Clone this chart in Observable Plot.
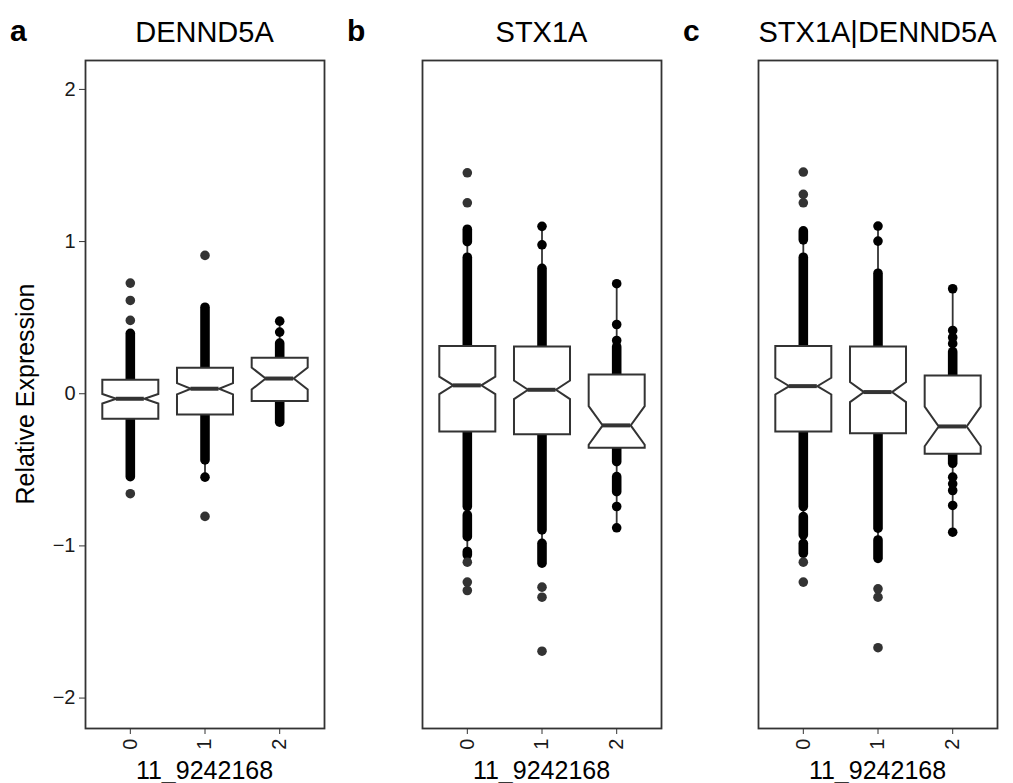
<!DOCTYPE html>
<html>
<head>
<meta charset="utf-8">
<script src="https://cdn.jsdelivr.net/npm/d3@7"></script>
<script src="https://cdn.jsdelivr.net/npm/@observablehq/plot@0.6"></script>
<style>
  html, body { margin: 0; padding: 0; background: #fff; }
  #root { position: relative; width: 1013px; height: 783px; overflow: hidden;
          font-family: "Liberation Sans", Arial, sans-serif; }
  #root > svg { position: absolute; top: 0; }
</style>
</head>
<body>
<div id="root"></div>
<script>
// ---------------- data ----------------
const genes = ["DENND5A", "STX1A", "STX1A|DENND5A"];
const panelTags = ["a", "b", "c"];
const genotypes = [0, 1, 2];
const xTitle = "11_9242168";
const yTitle = "Relative Expression";
const yTicks = [-2, -1, 0, 1, 2];

// rows: panel (gene), columns: genotype 0, 1, 2
const lowerHinge = [[-0.164, -0.136, -0.048], [-0.248, -0.267, -0.355], [-0.248, -0.259, -0.394]];
const medians    = [[-0.033,  0.033,  0.100], [ 0.055,  0.026, -0.208], [ 0.050,  0.011, -0.215]];
const upperHinge = [[ 0.092,  0.171,  0.237], [ 0.313,  0.311,  0.127], [ 0.313,  0.311,  0.120]];
const notchHalf  = [[ 0.031,  0.037,  0.072], [ 0.057,  0.061,  0.127], [ 0.055,  0.066,  0.130]];
const whiskerLow = [[-0.548, -0.548, -0.200], [-1.063, -1.117, -0.881], [-1.052, -1.085, -0.910]];
const whiskerHigh= [[ 0.394,  0.565,  0.477], [ 1.078,  1.100,  0.723], [ 1.067,  1.102,  0.690]];

// runs of overlapping data points: [panel, genotype, from, to]
const denseRuns = [
  [0, 0, -0.548, 0.394],
  [0, 1, -0.438, 0.565],
  [0, 2, -0.190, 0.330],
  [1, 0, -0.745, 0.894], [1, 0, 0.996, 1.078], [1, 0, -0.943, -0.800], [1, 0, -1.063, -1.040],
  [1, 1, -0.898, 0.821], [1, 1, -1.117, -0.986],
  [1, 2, 0.127, 0.306], [1, 2, -0.450, -0.355], [1, 2, -0.647, -0.548],
  [2, 0, -0.745, 0.894], [2, 0, 1.008, 1.067], [2, 0, -0.931, -0.811], [2, 0, -1.052, -0.986],
  [2, 1, -0.887, 0.789], [2, 1, -1.085, -0.964],
  [2, 2, 0.120, 0.273], [2, 2, -0.460, -0.394]
];
// isolated data points within the whiskers: [panel, genotype, value]
const singlePoints = [
  [0, 1, -0.548], [0, 2, 0.405], [0, 2, 0.477],
  [1, 1, 1.100], [1, 1, 0.979],
  [1, 2, 0.723], [1, 2, 0.455], [1, 2, 0.350], [1, 2, -0.741], [1, 2, -0.881],
  [2, 1, 1.102], [2, 1, 1.003],
  [2, 2, 0.690], [2, 2, 0.416], [2, 2, 0.370], [2, 2, 0.329],
  [2, 2, -0.548], [2, 2, -0.592], [2, 2, -0.636], [2, 2, -0.734], [2, 2, -0.910]
];
// boxplot outliers: [panel, genotype, value]
const outliers = [
  [0, 0, 0.727], [0, 0, 0.613], [0, 0, 0.482], [0, 0, -0.657],
  [0, 1, 0.909], [0, 1, -0.806],
  [1, 0, 1.452], [1, 0, 1.255], [1, 0, -1.107], [1, 0, -1.238], [1, 0, -1.293],
  [1, 1, -1.271], [1, 1, -1.337], [1, 1, -1.692],
  [2, 0, 1.457], [2, 0, 1.310], [2, 0, 1.255], [2, 0, -1.107], [2, 0, -1.238],
  [2, 1, -1.282], [2, 1, -1.337], [2, 1, -1.669]
];

// ---------------- layout / style ----------------
const frameLefts = [85, 422, 758];
const frameWidth = 239;
const HALF = 0.375, NOTCH_HALF_W = 0.1875;
const ink = "#333333";
const fontFamily = '"Liberation Sans", Arial, sans-serif';
const minus = d => d < 0 ? "\u2212" + Math.abs(d) : String(d);

const root = document.getElementById("root");

genes.forEach((gene, p) => {
  const boxes = genotypes.map((g, i) => ({
    g, q1: lowerHinge[p][i], med: medians[p][i], q3: upperHinge[p][i],
    nh: notchHalf[p][i], wlo: whiskerLow[p][i], whi: whiskerHigh[p][i]
  }));
  const poly = boxes.flatMap(b => [
    [b.g - HALF, b.q1], [b.g - HALF, b.med - b.nh], [b.g - NOTCH_HALF_W, b.med],
    [b.g - HALF, b.med + b.nh], [b.g - HALF, b.q3], [b.g + HALF, b.q3],
    [b.g + HALF, b.med + b.nh], [b.g + NOTCH_HALF_W, b.med], [b.g + HALF, b.med - b.nh],
    [b.g + HALF, b.q1]
  ].map(([x, y]) => ({g: b.g, x, y})));
  const whiskers = boxes.flatMap(b => [
    {g: b.g, a: b.q3, b: b.whi}, {g: b.g, a: b.q1, b: b.wlo}
  ]);
  const runs = denseRuns.filter(r => r[0] === p).map(r => ({g: r[1], a: r[2], b: r[3]}));
  const singles = singlePoints.filter(r => r[0] === p).map(r => ({g: r[1], v: r[2]}));
  const outs = outliers.filter(r => r[0] === p).map(r => ({g: r[1], v: r[2]}));

  const ml = p === 0 ? 85 : 10;
  const mr = 2;
  const chart = Plot.plot({
    width: ml + frameWidth + mr,
    height: 783,
    marginTop: 60, marginBottom: 55, marginLeft: ml, marginRight: mr,
    style: {fontFamily, color: "#1a1a1a", background: "transparent", overflow: "visible"},
    x: {domain: [-0.6, 2.6]},
    y: {domain: [-2.2, 2.19]},
    marks: [
      Plot.ruleX(whiskers, {x: "g", y1: "a", y2: "b", stroke: ink, strokeWidth: 1.8}),
      Plot.ruleX(runs, {x: "g", y1: "a", y2: "b", stroke: "black", strokeWidth: 9.6, strokeLinecap: "round"}),
      Plot.dot(singles, {x: "g", y: "v", r: 4.8, fill: "black", stroke: null}),
      Plot.dot(outs, {x: "g", y: "v", r: 4.8, fill: ink, stroke: null}),
      Plot.line(poly, {x: "x", y: "y", z: "g", curve: "linear-closed", fill: "white",
        stroke: ink, strokeWidth: 2, strokeLinejoin: "miter", strokeMiterlimit: 10}),
      Plot.ruleY(boxes, {y: "med", x1: d => d.g - NOTCH_HALF_W, x2: d => d.g + NOTCH_HALF_W,
        stroke: ink, strokeWidth: 4}),
      Plot.frame({stroke: ink, strokeWidth: 1.8}),
      p === 0 ? Plot.axisY({ticks: yTicks, tickFormat: minus, tickSize: 6, tickPadding: 4,
        fontSize: 20, label: null, stroke: ink}) : Plot.axisY({ticks: [], label: null}),
      Plot.axisX({ticks: genotypes, tickFormat: d => String(d), tickSize: 6, tickPadding: 4,
        tickRotate: -90, fontSize: 20, label: null, stroke: ink})
    ]
  });
  chart.style.left = (frameLefts[p] - ml) + "px";
  root.appendChild(chart);
});

// overlay for titles and axis titles
const svg = d3.select(root).append("svg")
  .attr("width", 1013).attr("height", 783)
  .style("pointer-events", "none")
  .style("font-family", fontFamily);
genes.forEach((gene, p) => {
  const cx = frameLefts[p] + frameWidth / 2;
  svg.append("text").attr("x", cx).attr("y", 42).attr("text-anchor", "middle")
    .attr("font-size", 29).attr("fill", "black").text(gene);
  svg.append("text").attr("x", cx).attr("y", 779).attr("text-anchor", "middle")
    .attr("font-size", 25).attr("fill", "black").text(xTitle);
  svg.append("text").attr("x", frameLefts[p] - 75).attr("y", 41)
    .attr("font-size", 30).attr("font-weight", "bold").attr("fill", "black").text(panelTags[p]);
});
svg.append("text").attr("transform", "translate(34,394) rotate(-90)")
  .attr("text-anchor", "middle").attr("font-size", 25).attr("fill", "black").text(yTitle);
</script>
</body>
</html>
